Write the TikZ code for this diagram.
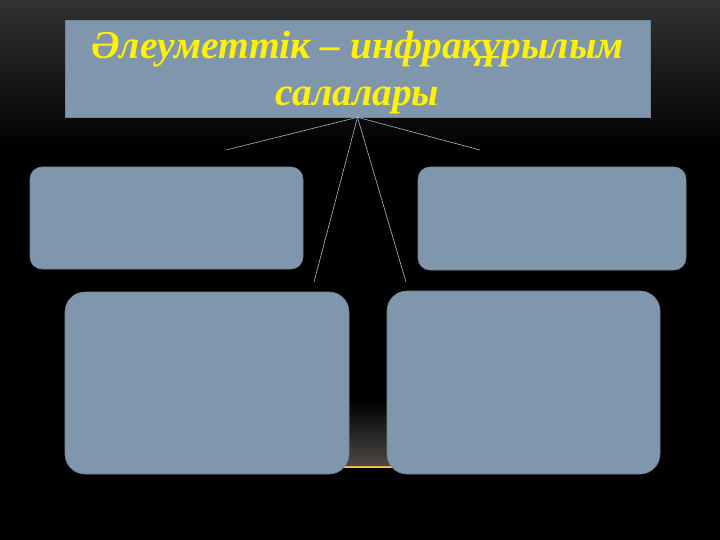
\documentclass[tikz,border=0pt]{standalone}
\usepackage{fontspec}
\setmainfont{Liberation Serif}
\usetikzlibrary{positioning}
\definecolor{panel}{HTML}{7F96AC}
\definecolor{bgtop}{HTML}{323232}
\definecolor{glow}{HTML}{4C4945}
\definecolor{horizon}{HTML}{E8A83A}
\definecolor{spoke}{HTML}{A8B8C8}
\tikzset{panelbox/.style={fill=panel, draw=panel!88!black, line width=.6pt,
         rounded corners=#1, inner sep=0pt},
         panelbox/.default={12pt},
         spokeline/.style={spoke, line width=.6pt}}

\begin{document}
\begin{tikzpicture}[x=1pt,y=-1pt]
      \useasboundingbox (0,0) rectangle (720,540);
      \fill[black] (0,0) rectangle (720,540);
      \shade[top color=bgtop, bottom color=black] (0,0) rectangle (720,150);
      \begin{scope}
        \shade[top color=black, bottom color=glow] (150,400) rectangle (570,466);
        \draw[horizon, line width=2.4pt] (90,467) -- (630,467);
        \draw[yellow!70!horizon, line width=.8pt] (90,467) -- (630,467);
      \end{scope}

      \node[panelbox=0pt, minimum width=585pt, minimum height=97pt] (title) at (357.5,68.5) {};
      \node[font=\bfseries\itshape\fontsize{39.5}{47}\selectfont, text=yellow, align=center,
            inner sep=0pt, anchor=base] (caption) at (357.5,106)
            {Әлеуметтік – инфрақұрылым\\салалары};

      \coordinate (tl) at (226,150);
      \coordinate (tr) at (480,150);
      \coordinate (bl) at (314,282);
      \coordinate (br) at (406,282);
      \foreach \e in {tl,tr,bl,br}
        \draw[spokeline] (title.south) -- (\e);

      \node[panelbox, minimum width=273pt, minimum height=102pt] (boxtl) at (166.5,218) {};
      \node[panelbox, minimum width=268pt, minimum height=103pt] (boxtr) at (552,218.5) {};
      \node[panelbox=20pt, minimum width=284pt, minimum height=182pt] (boxbl) at (207,383) {};
      \node[panelbox=20pt, minimum width=273pt, minimum height=183pt] (boxbr) at (523.5,382.5) {};
\end{tikzpicture}
\end{document}
